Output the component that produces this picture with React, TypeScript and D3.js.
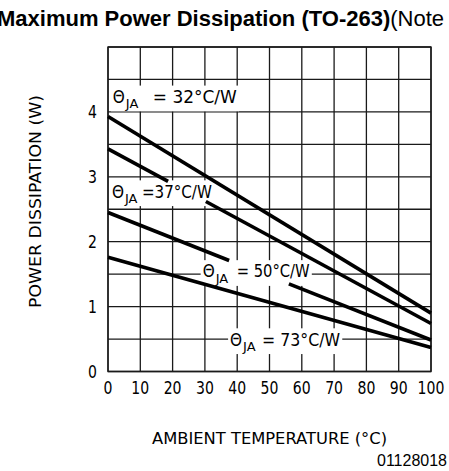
import React, { useEffect, useRef } from "react";
import * as d3 from "d3";

const width = 449;
const height = 471;
const plot = { left: 108, right: 431, top: 47, bottom: 371.5 };

// axis values
const xTicks = [0, 10, 20, 30, 40, 50, 60, 70, 80, 90, 100];
const yTicks = [0, 1, 2, 3, 4];
const yGrid = [0, 0.5, 1, 1.5, 2, 2.5, 3, 3.5, 4, 4.5, 5];

// derating lines: [ambient °C, power W], split where the labels sit
const line32 = [[[0, 3.93], [100, 0.9]]];
const line37 = [
  [[0, 3.43], [18.6, 2.93]],
  [[30.3, 2.62], [100, 0.74]],
];
const line50 = [
  [[0, 2.45], [37.5, 1.71]],
  [[56, 1.35], [100, 0.485]],
];
const line73 = [[[0, 1.76], [100, 0.37]]];
const allLines = [line32, line37, line50, line73];

// labels: anchor in data units [°C, W]
const labelAt = [
  [1.5, 4.24],
  [1.2, 2.78],
  [29.3, 1.55],
  [37.8, 0.5],
];
const labelRest = ["= 32°C/W", "=37°C/W", "= 50°C/W", "= 73°C/W"];

// label layout (pixels)
const restOffset = [40, 30, 34, 32];
const restWidth = [84, 70, 73, 78];

const font = "'DejaVu Sans', sans-serif";

export default function App() {
  const ref = useRef<SVGSVGElement>(null);

  useEffect(() => {
    const svg = d3.select(ref.current);
    svg.selectAll("*").remove();

    const x = d3.scaleLinear().domain([0, 100]).range([plot.left, plot.right]);
    const y = d3.scaleLinear().domain([0, 5]).range([plot.bottom, plot.top]);

    // grid
    const grid = svg.append("g").attr("stroke", "#1a1a1a").attr("stroke-width", 1.3);
    grid
      .selectAll("line.v")
      .data(xTicks)
      .join("line")
      .attr("x1", (d) => x(d))
      .attr("x2", (d) => x(d))
      .attr("y1", y(0))
      .attr("y2", y(5));
    grid
      .selectAll("line.h")
      .data(yGrid)
      .join("line")
      .attr("class", "h")
      .attr("x1", x(0))
      .attr("x2", x(100))
      .attr("y1", (d) => y(d))
      .attr("y2", (d) => y(d));

    const bg = svg.append("g");

    // labels
    const labels = svg.append("g").attr("font-family", font).attr("fill", "#000");
    labelAt.forEach(([t, p], i) => {
      const g = labels
        .append("g")
        .attr("transform", `translate(${x(t)},${y(p)})`);
      g.append("text")
        .attr("x", 0)
        .attr("y", 6.5)
        .attr("font-size", 18)
        .attr("transform", "scale(0.85,1)")
        .text("Θ");
      g.append("text")
        .attr("x", 13)
        .attr("y", 12)
        .attr("font-size", 13)
        .text("JA");
      g.append("text")
        .attr("x", restOffset[i])
        .attr("y", 6.5)
        .attr("font-size", 18)
        .attr("textLength", restWidth[i])
        .attr("lengthAdjust", "spacingAndGlyphs")
        .text(labelRest[i]);
      const b = (g.node() as SVGGElement).getBBox();
      bg.append("rect")
        .attr("x", x(t) + b.x - 2)
        .attr("y", y(p) + b.y)
        .attr("width", b.width + 4)
        .attr("height", b.height)
        .attr("fill", "#fff");
    });

    // frame
    svg
      .append("rect")
      .attr("x", x(0))
      .attr("y", y(5))
      .attr("width", x(100) - x(0))
      .attr("height", y(0) - y(5))
      .attr("fill", "none")
      .attr("stroke", "#1a1a1a")
      .attr("stroke-width", 1.4);

    // derating lines
    const line = d3
      .line<number[]>()
      .x((d) => x(d[0]))
      .y((d) => y(d[1]));
    svg
      .append("g")
      .selectAll("path")
      .data(allLines.flat())
      .join("path")
      .attr("d", (d) => line(d))
      .attr("fill", "none")
      .attr("stroke", "#000")
      .attr("stroke-width", 3.6);

    // tick labels
    const ticks = svg.append("g").attr("font-family", font).attr("font-size", 18);
    ticks
      .selectAll("text.x")
      .data(xTicks)
      .join("text")
      .attr("text-anchor", "middle")
      .attr("transform", (d) => `translate(${x(d)},394) scale(0.78,1)`)
      .text((d) => d);
    ticks
      .selectAll("text.y")
      .data(yTicks)
      .join("text")
      .attr("class", "y")
      .attr("text-anchor", "end")
      .attr("transform", (d) => `translate(${plot.left - 11},${y(d) + 6.5}) scale(0.78,1)`)
      .text((d) => d);

    // axis titles
    svg
      .append("text")
      .attr("font-family", font)
      .attr("font-size", 16)
      .attr("x", 152)
      .attr("y", 444)
      .attr("textLength", 235)
      .attr("lengthAdjust", "spacingAndGlyphs")
      .text("AMBIENT TEMPERATURE (°C)");
    svg
      .append("text")
      .attr("font-family", font)
      .attr("font-size", 16)
      .attr("transform", "translate(41,308) rotate(-90)")
      .attr("textLength", 213)
      .attr("lengthAdjust", "spacingAndGlyphs")
      .text("POWER DISSIPATION (W)");

    // title (runs off the right edge, as in the source figure)
    const title = svg
      .append("text")
      .attr("font-family", "'Liberation Sans', Arial, sans-serif")
      .attr("font-size", 22)
      .attr("x", -3)
      .attr("y", 26);
    title.append("tspan").attr("font-weight", "bold").text("Maximum Power Dissipation (TO-263)");
    title.append("tspan").text("(Note");

    svg
      .append("text")
      .attr("font-family", "'Liberation Sans', Arial, sans-serif")
      .attr("font-size", 16)
      .attr("text-anchor", "end")
      .attr("x", 447)
      .attr("y", 466)
      .text("01128018");
  }, []);

  return (
    <svg
      ref={ref}
      width={width}
      height={height}
      style={{ position: "absolute", left: 0, top: 0, background: "#fff" }}
    />
  );
}
